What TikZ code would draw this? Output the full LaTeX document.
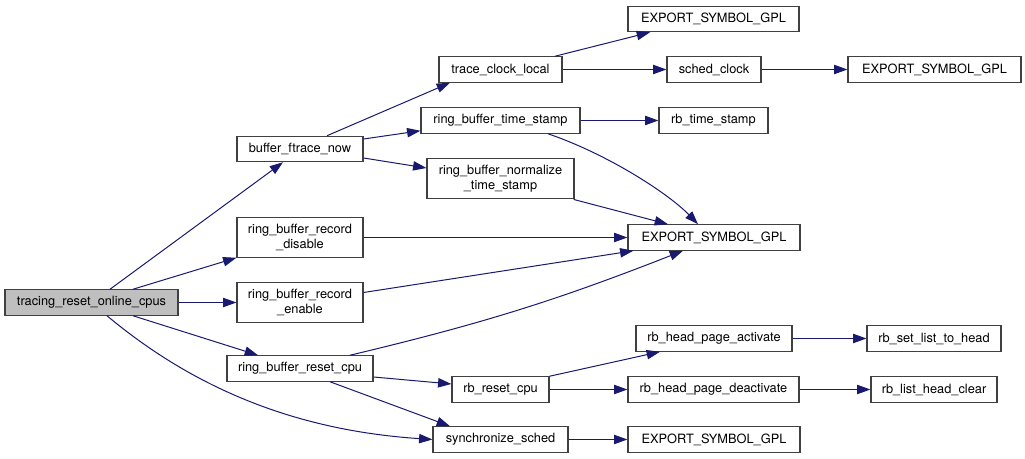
\documentclass[tikz,border=0pt]{standalone}
\usepackage{fontspec}
\setmainfont{TeX Gyre Heros}
\usetikzlibrary{arrows.meta, calc}
\definecolor{edgeblue}{HTML}{191970}
\definecolor{boxline}{HTML}{404040}
\definecolor{rootgray}{HTML}{BFBFBF}

\begin{document}
\begin{tikzpicture}[x=0.75pt, y=-0.75pt, >={Triangle[length=10pt, width=7pt]},
  fnbox/.style={draw=boxline, line width=0.9pt, fill=white, inner sep=0pt,
    minimum height=19pt, align=center, font=\fontsize{9.6}{11.2}\selectfont},
  rootbox/.style={fnbox, fill=rootgray},
  call/.style={->, draw=edgeblue, line width=0.75pt}]

\useasboundingbox (0,0) rectangle (1025,459);

% Root
\node[rootbox, minimum width=129.75pt] (trc) at (91.5,302.5) {tracing\_reset\_online\_cpus};

% First column
\node[fnbox, minimum width=94.5pt] (bfn) at (300,149) {buffer\_ftrace\_now};
\node[fnbox, minimum width=94.5pt, minimum height=29.5pt] (rbd) at (300,237.5) {ring\_buffer\_record\\\_disable};
\node[fnbox, minimum width=94.5pt, minimum height=29.5pt] (rbe) at (300,302.5) {ring\_buffer\_record\\\_enable};
\node[fnbox, minimum width=109.5pt] (rbr) at (300,368.5) {ring\_buffer\_reset\_cpu};

% Second column
\node[fnbox, minimum width=92.25pt] (tcl) at (500.5,69.5) {trace\_clock\_local};
\node[fnbox, minimum width=119.25pt] (rbts) at (500.5,120.5) {ring\_buffer\_time\_stamp};
\node[fnbox, minimum width=110.25pt, minimum height=30.5pt] (rbn) at (500.5,178.5) {ring\_buffer\_normalize\\\_time\_stamp};
\node[fnbox, minimum width=72.75pt] (rbrc) at (500.5,389.5) {rb\_reset\_cpu};
\node[fnbox, minimum width=101.25pt] (syn) at (500.5,439.5) {synchronize\_sched};

% Third column
\node[fnbox, minimum width=128.25pt] (esg1) at (713.5,19) {EXPORT\_SYMBOL\_GPL};
\node[fnbox, minimum width=70.5pt] (sclk) at (714,69.5) {sched\_clock};
\node[fnbox, minimum width=81.75pt] (rbtm) at (713.5,120.5) {rb\_time\_stamp};
\node[fnbox, minimum width=129pt] (esg2) at (714,237.5) {EXPORT\_SYMBOL\_GPL};
\node[fnbox, minimum width=117pt] (rbha) at (714,338.5) {rb\_head\_page\_activate};
\node[fnbox, minimum width=128.25pt] (rbhd) at (713.5,389.5) {rb\_head\_page\_deactivate};
\node[fnbox, minimum width=129pt] (esg4) at (714,439.5) {EXPORT\_SYMBOL\_GPL};

% Fourth column
\node[fnbox, minimum width=129.75pt] (esg3) at (934.5,69.5) {EXPORT\_SYMBOL\_GPL};
\node[fnbox, minimum width=100.5pt] (rbsl) at (934,338.5) {rb\_set\_list\_to\_head};
\node[fnbox, minimum width=94.5pt] (rblc) at (934,389.5) {rb\_list\_head\_clear};

% Calls from the root
\draw[call] ($(trc.north)+(18.5,0)$) -- ($(bfn.south)+(-17,0)$);
\draw[call] ($(trc.north)+(41.5,0)$) -- (rbd.south west);
\draw[call] (trc.east) -- (rbe.west);
\draw[call] ($(trc.south)+(41.5,0)$) -- ($(rbr.north)+(-42,0)$);
\draw[call] ($(trc.south)+(15.5,0)$) .. controls (190,385) and (290,430) .. (syn.west);

% buffer_ftrace_now
\draw[call] ($(bfn.north)+(27,0)$) -- ($(tcl.south)+(-50.5,0)$);
\draw[call] ($(bfn.east)+(0,-10)$) -- ($(rbts.south west)+(0,-3)$);
\draw[call] ($(bfn.east)+(0,9)$) -- ($(rbn.west)+(0,-10.5)$);

% trace_clock_local and time stamps
\draw[call] ($(tcl.north)+(54.5,0)$) -- ($(esg1.south)+(-63.5,0)$);
\draw[call] (tcl.east) -- (sclk.west);
\draw[call] (sclk.east) -- (esg3.west);
\draw[call] (rbts.east) -- (rbtm.west);
\draw[call] ($(rbts.south)+(47.5,0)$) .. controls (610,155) and (670,195) .. ($(esg2.north)+(-16,0)$);
\draw[call] ($(rbn.south east)+(-1,0)$) -- ($(esg2.north)+(-46,0)$);

% record disable / enable
\draw[call] (rbd.east) -- (esg2.west);
\draw[call] ($(rbe.east)+(0,-10)$) -- ($(esg2.south west)+(6,0)$);

% ring_buffer_reset_cpu
\draw[call] ($(rbr.north)+(50,0)$) to[bend right=4] ($(esg2.south)+(-31,0)$);
\draw[call] ($(rbr.east)+(0,8.5)$) -- ($(rbrc.west)+(0,-5.5)$);
\draw[call] ($(rbr.south)+(30,0)$) -- ($(syn.north)+(-50.5,0)$);

% rb_reset_cpu
\draw[call] (rbrc.north east) -- ($(rbha.south)+(-54,0)$);
\draw[call] (rbrc.east) -- (rbhd.west);
\draw[call] (rbha.east) -- (rbsl.west);
\draw[call] (rbhd.east) -- (rblc.west);
\draw[call] (syn.east) -- (esg4.west);

\end{tikzpicture}
\end{document}
